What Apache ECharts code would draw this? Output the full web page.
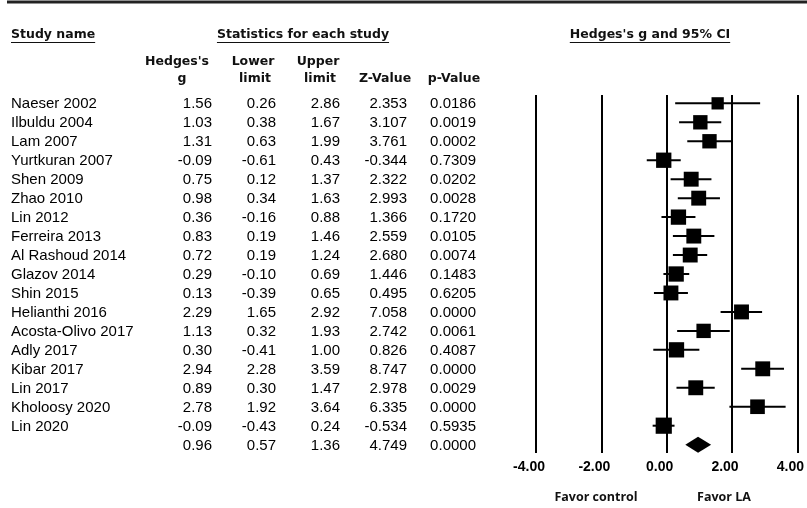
<!DOCTYPE html>
<html>
<head>
<meta charset="utf-8">
<script src="https://cdn.jsdelivr.net/npm/echarts@6/dist/echarts.min.js"></script>
<style>
html, body { margin: 0; padding: 0; background: #fff; }
#main { width: 807px; height: 508px; }
</style>
</head>
<body>
<div id="main"></div>
<script>
var studies = ['Naeser 2002', 'Ilbuldu 2004', 'Lam 2007', 'Yurtkuran 2007', 'Shen 2009', 'Zhao 2010',
    'Lin 2012', 'Ferreira 2013', 'Al Rashoud 2014', 'Glazov 2014', 'Shin 2015', 'Helianthi 2016',
    'Acosta-Olivo 2017', 'Adly 2017', 'Kibar 2017', 'Lin 2017', 'Kholoosy 2020', 'Lin 2020'];
var hedgesG = [1.56, 1.03, 1.31, -0.09, 0.75, 0.98, 0.36, 0.83, 0.72, 0.29, 0.13, 2.29, 1.13, 0.30, 2.94, 0.89, 2.78, -0.09];
var lowerLimit = [0.26, 0.38, 0.63, -0.61, 0.12, 0.34, -0.16, 0.19, 0.19, -0.10, -0.39, 1.65, 0.32, -0.41, 2.28, 0.30, 1.92, -0.43];
var upperLimit = [2.86, 1.67, 1.99, 0.43, 1.37, 1.63, 0.88, 1.46, 1.24, 0.69, 0.65, 2.92, 1.93, 1.00, 3.59, 1.47, 3.64, 0.24];
var zValue = [2.353, 3.107, 3.761, -0.344, 2.322, 2.993, 1.366, 2.559, 2.680, 1.446, 0.495, 7.058, 2.742, 0.826, 8.747, 2.978, 6.335, -0.534];
var pValue = [0.0186, 0.0019, 0.0002, 0.7309, 0.0202, 0.0028, 0.1720, 0.0105, 0.0074, 0.1483, 0.6205, 0.0000, 0.0061, 0.4087, 0.0000, 0.0029, 0.0000, 0.5935];
// relative weights
var relWeight = [3.8, 5.2, 5.2, 5.9, 5.6, 5.6, 5.9, 5.6, 5.6, 5.9, 5.6, 5.6, 5.2, 5.9, 5.6, 5.6, 5.4, 6.6];

var pooledG = 0.96, pooledLower = 0.57, pooledUpper = 1.36, pooledZ = 4.749, pooledP = 0.0000;

var colHeads = [["Hedges's", 'g'], ['Lower', 'limit'], ['Upper', 'limit'], ['', 'Z-Value'], ['', 'p-Value']];
var favorLabels = ['Favor control', 'Favor LA'];

var n = studies.length;
var rows = studies.map(function (s, i) {
    return [s, hedgesG[i].toFixed(2), lowerLimit[i].toFixed(2), upperLimit[i].toFixed(2),
        zValue[i].toFixed(3), pValue[i].toFixed(4)];
});
rows.push(['', pooledG.toFixed(2), pooledLower.toFixed(2), pooledUpper.toFixed(2),
    pooledZ.toFixed(3), pooledP.toFixed(4)]);

// column anchors (x pixel) for the table
var colX = [11, 212, 276, 340, 407, 476];
var headX = [[177, 182], [253, 255], [318, 320], [0, 385], [0, 454]];

var bodyFont = '15px "Liberation Sans", Arial, sans-serif';
var headFont = 'bold 12.5px "DejaVu Sans", sans-serif';

function textWidth(txt, font) {
    var ctx = document.createElement('canvas').getContext('2d');
    ctx.font = font;
    return ctx.measureText(txt).width;
}

var graphic = [{
    type: 'line',
    shape: { x1: 7, y1: 2, x2: 807, y2: 2 },
    style: { stroke: '#222', lineWidth: 3 }
}];

// underlined group titles
[['Study name', 11, 'left'], ['Statistics for each study', 303, 'center'], ["Hedges's g and 95% CI", 650, 'center']]
    .forEach(function (t) {
        var w = textWidth(t[0], headFont);
        var x0 = t[2] === 'left' ? t[1] : t[1] - w / 2;
        graphic.push({
            type: 'text', x: t[1], y: 35,
            style: { text: t[0], font: headFont, fill: '#111', textAlign: t[2], textVerticalAlign: 'middle' }
        });
        graphic.push({
            type: 'line',
            shape: { x1: x0, y1: 42.5, x2: x0 + w, y2: 42.5 },
            style: { stroke: '#111', lineWidth: 1 }
        });
    });

colHeads.forEach(function (h, k) {
    [0, 1].forEach(function (line) {
        if (!h[line]) return;
        graphic.push({
            type: 'text', x: headX[k][line], y: line === 0 ? 62 : 79,
            style: { text: h[line], font: headFont, fill: '#111', textAlign: 'center', textVerticalAlign: 'middle' }
        });
    });
});

favorLabels.forEach(function (lab, k) {
    graphic.push({
        type: 'text', x: k === 0 ? 596 : 724, y: 497,
        style: { text: lab, font: 'bold 12.5px "Open Sans", sans-serif', fill: '#111', textAlign: 'center', textVerticalAlign: 'middle' }
    });
});

var chart = echarts.init(document.getElementById('main'));
var option = {
    backgroundColor: '#fff',
    animation: false,
    grid: [
        { left: 536, width: 264, top: 95, height: 358 },
        { left: 0, width: 807, top: 95, height: 358 }
    ],
    xAxis: [{
        type: 'value',
        gridIndex: 0,
        min: -4,
        max: 4,
        interval: 2,
        axisLine: { show: false },
        axisTick: { show: false },
        splitLine: { show: true, lineStyle: { color: '#000', width: 2 } },
        axisLabel: {
            margin: 7,
            padding: [0, 14, 0, 0],
            color: '#000',
            fontFamily: 'Liberation Sans',
            fontWeight: 'bold',
            fontSize: 14,
            formatter: function (v) { return v.toFixed(2); }
        }
    }, {
        type: 'value',
        gridIndex: 1,
        min: 0,
        max: 807,
        show: false
    }],
    yAxis: [{
        type: 'value', gridIndex: 0, min: -0.44, max: 18.44, inverse: true, show: false
    }, {
        type: 'value', gridIndex: 1, min: -0.44, max: 18.44, inverse: true, show: false
    }],
    graphic: graphic,
    series: [{
        // study estimates: CI whisker + weighted square
        type: 'custom',
        xAxisIndex: 0,
        yAxisIndex: 0,
        clip: false,
        data: studies.map(function (s, i) {
            return [hedgesG[i], i, lowerLimit[i], upperLimit[i], relWeight[i]];
        }),
        encode: { x: [0, 2, 3], y: 1 },
        renderItem: function (params, api) {
            var i = api.value(1);
            var lo = api.coord([api.value(2), i]);
            var hi = api.coord([api.value(3), i]);
            var c = api.coord([api.value(0), i]);
            var s = 6.3 * Math.sqrt(api.value(4));
            return {
                type: 'group',
                children: [{
                    type: 'line',
                    shape: { x1: lo[0], y1: lo[1], x2: hi[0], y2: hi[1] },
                    style: { stroke: '#000', lineWidth: 2 }
                }, {
                    type: 'rect',
                    shape: { x: c[0] - s / 2, y: c[1] - s / 2, width: s, height: s },
                    style: { fill: '#000' }
                }]
            };
        }
    }, {
        // pooled estimate diamond
        type: 'custom',
        xAxisIndex: 0,
        yAxisIndex: 0,
        clip: false,
        data: [[pooledG, n, pooledLower, pooledUpper]],
        encode: { x: [0, 2, 3], y: 1 },
        renderItem: function (params, api) {
            var r = api.value(1);
            var lo = api.coord([api.value(2), r]);
            var hi = api.coord([api.value(3), r]);
            var c = api.coord([api.value(0), r]);
            return {
                type: 'polygon',
                shape: { points: [[lo[0], c[1]], [c[0], c[1] - 8], [hi[0], c[1]], [c[0], c[1] + 8]] },
                style: { fill: '#000' }
            };
        }
    }, {
        // table of statistics
        type: 'custom',
        xAxisIndex: 1,
        yAxisIndex: 1,
        clip: false,
        silent: true,
        data: rows.map(function (r, i) { return [0, i]; }),
        renderItem: function (params, api) {
            var i = api.value(1);
            var row = rows[params.dataIndex];
            var children = row.map(function (txt, k) {
                var p = api.coord([colX[k], i]);
                return {
                    type: 'text',
                    x: p[0],
                    y: p[1] + 1,
                    style: {
                        text: txt,
                        font: bodyFont,
                        fill: '#000',
                        textAlign: k === 0 ? 'left' : 'right',
                        textVerticalAlign: 'middle'
                    }
                };
            });
            return { type: 'group', children: children };
        }
    }]
};
chart.setOption(option);
</script>
</body>
</html>
